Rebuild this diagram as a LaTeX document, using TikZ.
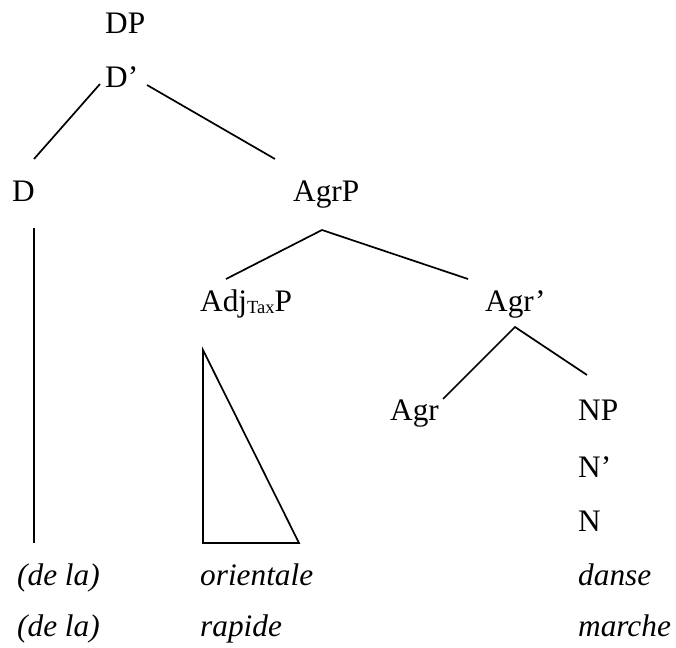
\documentclass[tikz,border=0pt]{standalone}
\usepackage{fontspec}
\setmainfont{Liberation Serif}
\begin{document}
\begin{tikzpicture}[x=1pt,y=-1pt,
  lab/.style={anchor=base west,inner sep=0pt,font=\fontsize{31.3}{31.3}\selectfont},
  wd/.style={anchor=base west,inner sep=0pt,font=\fontsize{31.3}{31.3}\selectfont\itshape},
  br/.style={line width=1.7pt}]
\useasboundingbox (0,0) rectangle (676,647);
% category labels
\node[lab] (DP) at (105,34) {DP};
\node[lab] (Dbar) at (105,88) {D’};
\node[lab] (D) at (12,201) {D};
\node[lab] (AgrP) at (293,201) {AgrP};
\node[lab] (AdjP) at (200,311) {Adj\raisebox{-2pt}{\fontsize{18.5}{18.5}\selectfont Tax}P};
\node[lab] (Agrbar) at (485,311) {Agr’};
\node[lab] (Agr) at (390,420) {Agr};
\node[lab] (NP) at (578,420) {NP};
\node[lab] (Nbar) at (578,477) {N’};
\node[lab] (N) at (578,531) {N};
% words
\node[wd] (dela1) at (17,585) {(de la)};
\node[wd] (orientale) at (200,585) {orientale};
\node[wd] (danse) at (578,585) {danse};
\node[wd] (dela2) at (17,636) {(de la)};
\node[wd] (rapide) at (200,636) {rapide};
\node[wd] (marche) at (578,636) {marche};
% branch end points
\coordinate (DbarL) at (100,84);
\coordinate (DbarR) at (147,85);
\coordinate (Dtop) at (34,159);
\coordinate (AgrPtop) at (275,159);
\coordinate (AgrPapex) at (322,230);
\coordinate (AdjPtop) at (226,279);
\coordinate (Agrbartop) at (468,279);
\coordinate (Agrbarapex) at (515,327);
\coordinate (Agrtop) at (443,399);
\coordinate (NPtop) at (587,375);
\coordinate (Dlow) at (34,228);
\coordinate (Dend) at (34,543);
\coordinate (TriA) at (203,350);
\coordinate (TriB) at (203,543);
\coordinate (TriC) at (299,543);
% branches
\draw[br] (DbarL) -- (Dtop);
\draw[br] (DbarR) -- (AgrPtop);
\draw[br] (AdjPtop) -- (AgrPapex) -- (Agrbartop);
\draw[br] (Agrtop) -- (Agrbarapex) -- (NPtop);
\draw[br] (Dlow) -- (Dend);
\draw[br,line join=miter] (TriA) -- (TriB) -- (TriC) -- cycle;
\end{tikzpicture}
\end{document}
